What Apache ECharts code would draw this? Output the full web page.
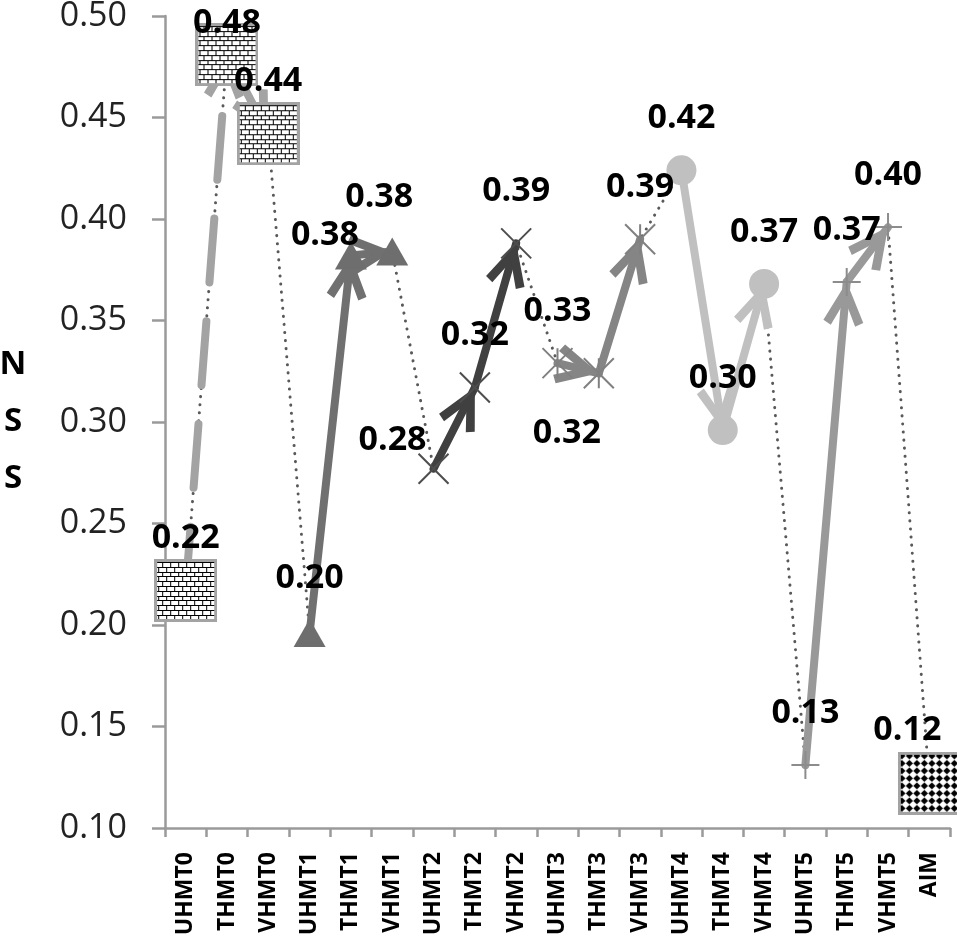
<!DOCTYPE html>
<html>
<head>
<meta charset="UTF-8">
<title>NSS</title>
<script src="https://cdn.jsdelivr.net/npm/echarts@6/dist/echarts.min.js"></script>
<style>
    html, body { margin: 0; padding: 0; background: #fff; }
    #main { width: 957px; height: 940px; }
</style>
</head>
<body>
<div id="main"></div>
<script>
// 数据
var categories = ['UHMT0', 'THMT0', 'VHMT0', 'UHMT1', 'THMT1', 'VHMT1', 'UHMT2', 'THMT2', 'VHMT2',
    'UHMT3', 'THMT3', 'VHMT3', 'UHMT4', 'THMT4', 'VHMT4', 'UHMT5', 'THMT5', 'VHMT5', 'AIM'];
var nss = [0.217, 0.481, 0.442, 0.196, 0.382, 0.384, 0.277, 0.317, 0.388,
    0.329, 0.324, 0.390, 0.424, 0.296, 0.368, 0.131, 0.369, 0.396, 0.122];
// 每组的下标 (U -> T -> V)
var groups = [[0, 1, 2], [3, 4, 5], [6, 7, 8], [9, 10, 11], [12, 13, 14], [15, 16, 17], [18]];
var yMin = 0.10, yMax = 0.50, yStep = 0.05;

var FONT = '"Open Sans", "Noto Sans", sans-serif';

// 带图案的方块标记, 画成图片
function patternBox(kind) {
    var n = 63;
    var c = document.createElement('canvas');
    c.width = n; c.height = n;
    var g = c.getContext('2d');
    g.fillStyle = '#fff';
    g.fillRect(0, 0, n, n);
    g.fillStyle = '#000';
    var x, y;
    if (kind === 'brick') {
        for (y = 3; y < n; y += 4.8) {
            g.fillRect(0, Math.round(y), n, 1);
        }
        var row = 0;
        for (y = 3; y < n; y += 4.8, row++) {
            for (x = (row % 2 ? 4 : 0); x < n; x += 8) {
                g.fillRect(Math.round(x), Math.round(y), 1, 5);
            }
        }
    } else {
        for (y = 4; y < n + 4; y += 7.5) {
            for (x = 4; x < n + 4; x += 7.5) {
                g.beginPath();
                g.moveTo(x, y - 3.6); g.lineTo(x + 3.6, y); g.lineTo(x, y + 3.6); g.lineTo(x - 3.6, y);
                g.closePath(); g.fill();
            }
        }
    }
    g.strokeStyle = '#a3a3a3';
    g.lineWidth = 3;
    g.strokeRect(1.5, 1.5, n - 3, n - 3);
    return 'image://' + c.toDataURL();
}

var X_PATH = 'path://M0,0 L10,10 M10,0 L0,10';
var STAR_PATH = 'path://M0,0 L10,10 M10,0 L0,10 M5,0 L5,10';
var PLUS_PATH = 'path://M5,0 L5,10 M0,5 L10,5';
// 开口箭头, 尖端在包围盒中心
var ARROW_PATH = 'path://M18,-40 M18,0 L36,36 L29,40 L18,17 L7,40 L0,36 Z';

var groupStyles = [
    {line: '#a3a3a3', dash: [64, 39], symbol: patternBox('brick'), size: 63},
    {line: '#707070', symbol: 'triangle', size: [32, 28], fill: '#6e6e6e'},
    {line: '#404040', symbol: X_PATH, size: 30, fill: 'rgba(0,0,0,0)', border: '#4d4d4d', bw: 2},
    {line: '#858585', symbol: STAR_PATH, size: 30, fill: 'rgba(0,0,0,0)', border: '#808080', bw: 2},
    {line: '#c0c0c0', symbol: 'circle', size: 30, fill: '#c0c0c0'},
    {line: '#999999', symbol: PLUS_PATH, size: 28, fill: 'rgba(0,0,0,0)', border: '#8c8c8c', bw: 2},
    {line: '#a3a3a3', symbol: patternBox('diamond'), size: 63}
];

// 数据标签偏移 (默认在点的正上方)
var labelShift = {1: [0, -31], 3: [0, -55], 4: [-26, -20], 5: [-13, -54], 6: [-41, -28], 10: [-32, 60], 18: [-22, -53]};

var series = [{
    name: 'path',
    type: 'line',
    data: nss,
    symbol: 'none',
    z: 0,
    silent: true,
    lineStyle: {color: '#595959', width: 3, type: [0.1, 8], cap: 'round'}
}];

groups.forEach(function (idx, k) {
    var st = groupStyles[k];
    var pairs = [];
    for (var j = 0; j + 1 < idx.length; j++) {
        pairs.push([
            {coord: [categories[idx[j]], nss[idx[j]]]},
            {coord: [categories[idx[j + 1]], nss[idx[j + 1]]]}
        ]);
    }
    series.push({
        type: 'line',
        z: 3,
        silent: true,
        showAllSymbol: true,
        symbol: st.symbol,
        symbolSize: st.size,
        lineStyle: {opacity: 0},
        itemStyle: {color: st.fill || '#fff', borderColor: st.border || st.fill || '#fff', borderWidth: st.bw || 0, opacity: 1},
        data: categories.map(function (c, i) {
            if (idx.indexOf(i) < 0) return null;
            return {
                value: nss[i],
                label: {offset: labelShift[i] || [0, -52]}
            };
        }),
        label: {
            show: true,
            position: 'inside',
            color: '#000',
            fontFamily: FONT,
            fontWeight: 'bold',
            fontSize: 34,
            formatter: function (p) { return p.value.toFixed(2); }
        },
        markLine: {
            silent: true,
            z: 2,
            animation: false,
            symbol: ['none', ARROW_PATH],
            symbolSize: [40, 88],
            label: {show: false},
            lineStyle: {color: st.line, width: 8, type: st.dash || 'solid', cap: 'round', opacity: 1},
            data: pairs
        }
    });
});

var myChart = echarts.init(document.getElementById('main'));
var option = {
    animation: false,
    backgroundColor: '#fff',
    grid: {left: 165, right: 7, top: 16, bottom: 112, outerBoundsMode: 'none', containLabel: false},
    xAxis: {
        type: 'category',
        data: categories,
        boundaryGap: true,
        axisLine: {show: true, lineStyle: {color: '#9a9a9a', width: 2.5}},
        axisTick: {show: true, interval: 0, length: 9, lineStyle: {color: '#9a9a9a', width: 2.5}},
        axisLabel: {interval: 0, rotate: 90, margin: 24, color: '#000', fontFamily: FONT, fontWeight: 'bold', fontSize: 23}
    },
    yAxis: {
        type: 'value',
        min: yMin,
        max: yMax,
        interval: yStep,
        name: 'N\nS\nS',
        nameLocation: 'middle',
        nameRotate: 0,
        nameGap: 152,
        nameTextStyle: {color: '#000', fontFamily: FONT, fontWeight: 'bold', fontSize: 33, lineHeight: 57, align: 'center', verticalAlign: 'middle'},
        splitLine: {show: false},
        axisLine: {show: true, lineStyle: {color: '#9a9a9a', width: 2.5}},
        axisTick: {show: true, length: 13, lineStyle: {color: '#9a9a9a', width: 2.5}},
        axisLabel: {
            margin: 38,
            color: '#222',
            fontFamily: FONT,
            fontSize: 34,
            formatter: function (v) { return v.toFixed(2); }
        }
    },
    series: series
};
myChart.setOption(option);
</script>
</body>
</html>
